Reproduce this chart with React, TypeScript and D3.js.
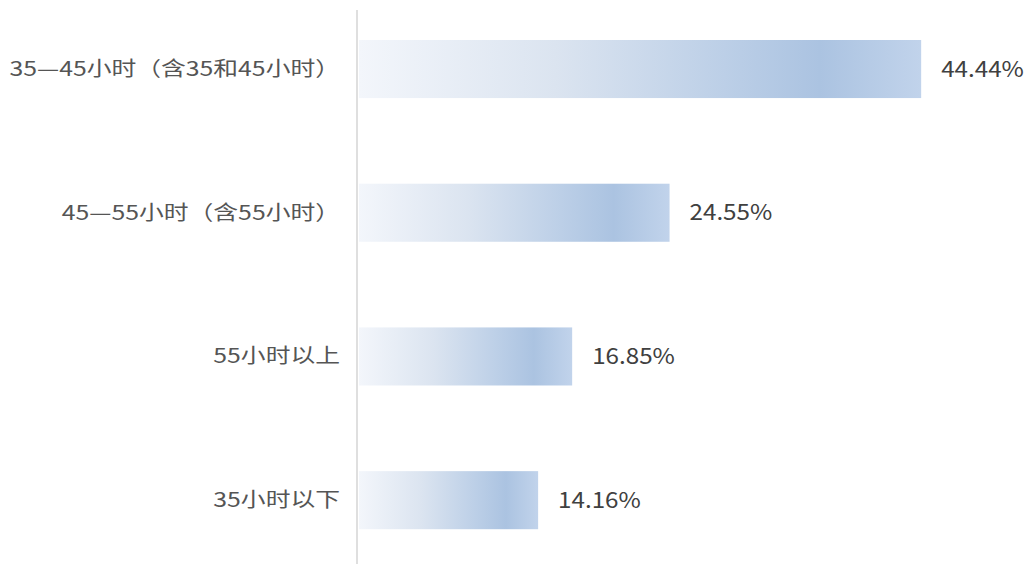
import React, { useEffect, useRef } from 'react';
import * as d3 from 'd3';

const categories = ['35—45小时（含35和45小时）', '45—55小时（含55小时）', '55小时以上', '35小时以下'];
const values = [44.44, 24.55, 16.85, 14.16];

const App: React.FC = () => {
  const ref = useRef<SVGSVGElement | null>(null);

  useEffect(() => {
    if (!ref.current) return;
    const svg = d3.select(ref.current);
    svg.selectAll('*').remove();
    const width = 1029;
    const height = 564;
    const font = '"Noto Sans CJK SC", "Noto Sans", sans-serif';

    const x = d3.scaleLinear().domain([0, 50]).range([359, 991.5]);
    const y = d3.scaleBand<string>()
      .domain(categories)
      .range([40, 529.2])
      .paddingInner(0.596)
      .paddingOuter(0);

    const defs = svg.append('defs');
    const grad = defs.append('linearGradient')
      .attr('id', 'barGrad')
      .attr('x1', '0').attr('x2', '1').attr('y1', '0').attr('y2', '0');
    const stops = [
      { o: '0%', c: '#f3f6fb' },
      { o: '35%', c: '#dbe4f0' },
      { o: '65%', c: '#bccfe7' },
      { o: '82%', c: '#abc3e1' },
      { o: '100%', c: '#c1d3eb' },
    ];
    grad.selectAll('stop').data(stops).enter().append('stop')
      .attr('offset', d => d.o)
      .attr('stop-color', d => d.c);

    svg.append('rect').attr('width', width).attr('height', height).attr('fill', '#ffffff');

    const rows = categories.map((c, i) => ({ c, v: values[i] }));

    svg.selectAll('.bar')
      .data(rows)
      .enter()
      .append('rect')
      .attr('class', 'bar')
      .attr('x', x(0))
      .attr('y', d => y(d.c) || 0)
      .attr('width', d => x(d.v) - x(0))
      .attr('height', y.bandwidth())
      .attr('fill', 'url(#barGrad)');

    // axis line
    svg.append('line')
      .attr('x1', 357).attr('x2', 357)
      .attr('y1', 10).attr('y2', height)
      .attr('stroke', '#d4d4d4')
      .attr('stroke-width', 1.5);

    // category labels (source image is stretched horizontally)
    svg.selectAll('.cat')
      .data(rows)
      .enter()
      .append('text')
      .attr('class', 'cat')
      .attr('transform', d => `translate(340,${(y(d.c) || 0) + y.bandwidth() / 2}) scale(1.24,1)`)
      .attr('dy', '0.35em')
      .attr('text-anchor', 'end')
      .attr('fill', '#555')
      .style('font-family', font)
      .style('font-size', '20px')
      .text(d => d.c);

    svg.selectAll('.val')
      .data(rows)
      .enter()
      .append('text')
      .attr('class', 'val')
      .attr('transform', d => `translate(${x(d.v) + 20},${(y(d.c) || 0) + y.bandwidth() / 2}) scale(1.1,1)`)
      .attr('dy', '0.35em')
      .attr('fill', '#404040')
      .style('font-family', font)
      .style('font-size', '22px')
      .text(d => d.v.toFixed(2) + '%');
  }, []);

  return (
    <div style={{ position: 'absolute', left: 0, top: 0 }}>
      <svg ref={ref} width={1029} height={564} style={{ display: 'block' }}></svg>
    </div>
  );
};

export default App;
